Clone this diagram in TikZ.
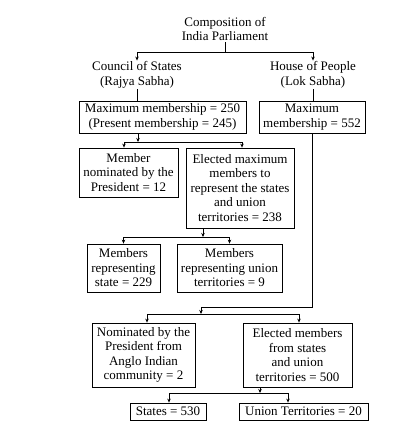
\documentclass[tikz,border=0pt]{standalone}
\usepackage{fontspec}
\setmainfont{Liberation Serif}
\usetikzlibrary{arrows.meta}

\begin{document}
\begin{tikzpicture}[x=1pt,y=-1pt,
  font=\fontsize{13}{14.5}\selectfont,
  box/.style={draw,line width=0.8pt,align=center,inner sep=1pt},
  lbl/.style={align=center,inner sep=1pt},
  link/.style={line width=0.8pt},
  arr/.style={link,-{Stealth[length=4pt,width=3.5pt]}}]
\useasboundingbox (0,0) rectangle (416,430);

% headings
\node[lbl] (title) at (225,29) {Composition of\\India Parliament};
\node[lbl] (council) at (137,75) {Council of States\\(Rajya Sabha)};
\node[lbl] (house) at (313,75) {House of People\\(Lok Sabha)};

% boxes
\node[box,minimum width=167pt,minimum height=32pt] (maxRS) at (162.5,117)
  {Maximum membership = 250\\(Present membership = 245)};
\node[box,minimum width=106pt,minimum height=32pt] (maxLS) at (312,117)
  {Maximum\\membership = 552};
\node[box,minimum width=99pt,minimum height=49pt] (nomRS) at (128.5,172.5)
  {Member\\nominated by the\\President = 12};
\node[box,minimum width=108pt,minimum height=80pt] (elecRS) at (240,188)
  {Elected maximum\\members to\\represent the states\\and union\\territories = 238};
\node[box,minimum width=73pt,minimum height=48pt] (st229) at (123.5,268)
  {Members\\representing\\state = 229};
\node[box,minimum width=105pt,minimum height=48pt] (ut9) at (229.5,268)
  {Members\\representing union\\territories = 9};
\node[box,minimum width=103pt,minimum height=64pt] (anglo) at (143.5,355)
  {Nominated by the\\President from\\Anglo Indian\\community = 2};
\node[box,minimum width=109pt,minimum height=64pt] (elecLS) at (297.5,355)
  {Elected members\\from states\\and union\\territories = 500};
\node[box,minimum width=76pt,minimum height=17pt] (st530) at (168,411.5) {States = 530};
\node[box,minimum width=129pt,minimum height=17pt] (ut20) at (303.5,411.5) {Union Territories = 20};

% junctions
\coordinate (jTop) at (225,52);
\coordinate (jRS) at (138,142);
\coordinate (jEl) at (203,237);
\coordinate (jLS) at (312,307);
\coordinate (jLow) at (201,314);
\coordinate (jSt) at (260,393);

% connectors
\draw[link] (title.south) -- (jTop);
\draw[arr] (jTop) -| (council.north);
\draw[arr] (jTop) -| (house.north);
\draw[link] (council.south) -- (council.south |- maxRS.north);
\draw[link] (house.south) -- (house.south |- maxLS.north);

\draw[arr] (maxRS.south -| jRS) -- (jRS);
\draw[arr] (jRS) -| ([xshift=-4.5pt]nomRS.north);
\draw[arr] (jRS) -| ([xshift=2pt]elecRS.north);

\draw[arr] (elecRS.south -| jEl) -- (jEl);
\draw[arr] (jEl) -| (st229.north);
\draw[arr] (jEl) -| (ut9.north);

\draw[arr] (maxLS.south) -- (jLS) -| (jLow);
\draw[arr] (jLow) -| ([xshift=3.5pt]anglo.north);
\draw[arr] (jLow) -| ([xshift=1.5pt]elecLS.north);

\draw[arr] (elecLS.south -| jSt) -- (jSt);
\draw[arr] (jSt) -| ([xshift=1pt]st530.north);
\draw[arr] (jSt) -| ([xshift=-15.5pt]ut20.north);

\end{tikzpicture}
\end{document}
